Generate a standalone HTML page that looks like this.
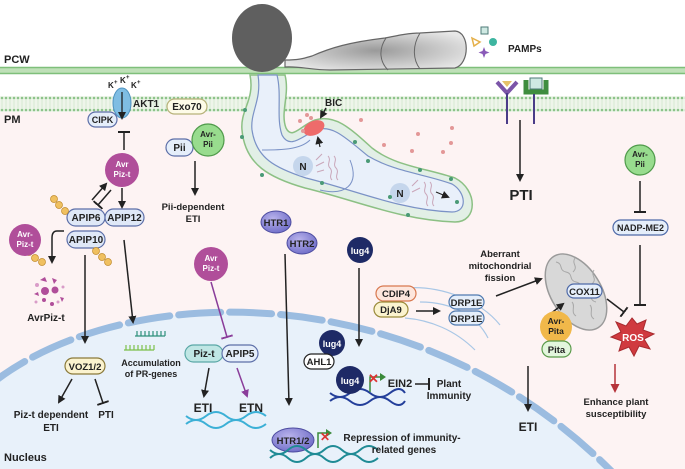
<!DOCTYPE html>
<html><head><meta charset="utf-8"><style>
html,body{margin:0;padding:0;background:#fff}
svg{display:block}
text{font-family:"Liberation Sans",Arial,sans-serif;font-weight:bold;fill:#222}
</style></head><body>
<svg width="685" height="469" viewBox="0 0 685 469" xmlns="http://www.w3.org/2000/svg">
<defs>
<marker id="ah" markerWidth="8" markerHeight="8" refX="6" refY="4" orient="auto" markerUnits="userSpaceOnUse"><path d="M0,0 L8,4 L0,8 Z" fill="#222"/></marker>
<marker id="ahp" markerWidth="8" markerHeight="8" refX="6" refY="4" orient="auto" markerUnits="userSpaceOnUse"><path d="M0,0 L8,4 L0,8 Z" fill="#8a3d9a"/></marker>
<marker id="ahr" markerWidth="9" markerHeight="9" refX="6" refY="4.5" orient="auto" markerUnits="userSpaceOnUse"><path d="M0,0 L9,4.5 L0,9 Z" fill="#b5333a"/></marker>
<marker id="tb" markerWidth="2" markerHeight="12" refX="1" refY="6" orient="auto" markerUnits="userSpaceOnUse"><rect x="0" y="0" width="2" height="12" fill="#222"/></marker>
<marker id="tbp" markerWidth="2" markerHeight="12" refX="1" refY="6" orient="auto" markerUnits="userSpaceOnUse"><rect x="0" y="0" width="2" height="12" fill="#8a3d9a"/></marker>
<pattern id="mem" width="4" height="16" patternUnits="userSpaceOnUse"><rect width="4" height="16" fill="#eef5ea"/><circle cx="2" cy="2" r="1.3" fill="#8dc38a"/><circle cx="2" cy="14" r="1.3" fill="#8dc38a"/><line x1="2" y1="3" x2="2" y2="13" stroke="#c8e1c4" stroke-width="0.6"/></pattern>
<radialGradient id="hyp" cx="0.5" cy="0.5" r="0.6"><stop offset="0" stop-color="#9a9a9a"/><stop offset="1" stop-color="#e8e8e8"/></radialGradient>
<radialGradient id="prot" cx="0.4" cy="0.35" r="0.7"><stop offset="0" stop-color="#b9b3ec"/><stop offset="1" stop-color="#6e6cc7"/></radialGradient>
</defs>
<rect x="0" y="112" width="685" height="357" fill="#fdf3f3"/>
<path d="M-10,385 C120,280 420,270 620,480 L-10,480 Z" fill="#e8f1fa"/>
<path d="M-10,385 C120,280 420,270 620,480" fill="none" stroke="#9bbce0" stroke-width="7" stroke-linecap="round" stroke-dasharray="42 9"/>
<rect x="0" y="67" width="685" height="7" fill="#bfe0b8"/>
<line x1="0" y1="67.5" x2="685" y2="67.5" stroke="#7fbf7a" stroke-width="1.5"/>
<line x1="0" y1="73.5" x2="685" y2="73.5" stroke="#7fbf7a" stroke-width="1.5"/>
<rect x="0" y="96" width="685" height="16" fill="url(#mem)"/>
<text x="4" y="63" font-size="11">PCW</text>
<text x="4" y="123" font-size="11">PM</text>
<text x="4" y="461" font-size="11">Nucleus</text>
<path d="M285,60 C300,60 305,58 312,56 C330,48 350,42 385,38 C400,35 410,33 420,33 L455,31 C470,32 470,64 455,68 L330,70 C310,70 300,66 285,67 Z" fill="url(#hyp)" stroke="#666" stroke-width="1.2"/>
<path d="M386,38 C378,50 380,62 388,70 M420,33 C412,46 413,60 420,69" stroke="#666" fill="none" stroke-width="1"/>
<ellipse cx="262" cy="38" rx="30" ry="34" fill="#5f5f5f"/>
<path d="M250,75 C255,100 240,110 242,130 C245,165 270,178 305,188 C355,200 400,220 455,222 C478,222 478,190 455,178 C425,168 395,166 372,148 C350,128 335,114 315,120 C300,126 292,140 286,128 C280,112 290,95 285,75 Z" fill="#e2efe6" stroke="#8cc084" stroke-width="1.5"/>
<path d="M258,75 C262,100 250,112 252,130 C256,158 275,168 306,178 C355,190 400,210 452,212 C468,212 466,192 452,184 C425,174 395,172 368,156 C346,138 332,124 316,130 C302,136 290,150 282,135 C276,118 282,95 277,75 Z" fill="#e9f0fa" stroke="#7b92c6" stroke-width="1.2"/>
<path d="M262,150 C280,150 300,150 310,140 M350,160 C360,185 345,196 320,190" fill="none" stroke="#7b92c6" stroke-width="1"/>
<circle cx="303" cy="166" r="10" fill="#c5d6ec"/><text x="303" y="170" font-size="10" font-weight="normal" text-anchor="middle">N</text>
<circle cx="400" cy="193" r="10" fill="#c5d6ec"/><text x="400" y="197" font-size="10" font-weight="normal" text-anchor="middle">N</text>
<path d="M316,160 l6,-6 m-6,12 l8,-4 m-7,10 l7,-2 M328,156 c4,4 -2,8 2,12 c4,4 -2,8 2,12 M334,156 c4,4 -2,8 2,12 c4,4 -2,8 2,12" stroke="#c9a6b9" fill="none" stroke-width="1"/>
<path d="M412,186 l6,-6 m-6,12 l8,-4 M424,182 c4,4 -2,8 2,12 c4,4 -2,8 2,12 M430,182 c4,4 -2,8 2,12 c4,4 -2,8 2,12" stroke="#c9a6b9" fill="none" stroke-width="1"/>
<line x1="436" y1="192" x2="448" y2="197" stroke="#222" stroke-width="1.2" marker-end="url(#ah)"/>
<line x1="320" y1="147" x2="318" y2="138" stroke="#222" stroke-width="1.2" marker-end="url(#ah)"/>
<ellipse cx="314" cy="128" rx="11" ry="7" fill="#ee6b6b" transform="rotate(-25 314 128)"/>
<line x1="326" y1="108" x2="321" y2="117" stroke="#222" stroke-width="1.5" marker-end="url(#ah)"/>
<text x="325" y="106" font-size="10">BIC</text>
<g fill="#e39797">
<circle cx="300" cy="121" r="2"/><circle cx="307" cy="115" r="2"/><circle cx="303" cy="131" r="2"/><circle cx="311" cy="118" r="2"/><circle cx="361" cy="120" r="2"/><circle cx="384" cy="145" r="2"/><circle cx="418" cy="134" r="2"/><circle cx="412" cy="151" r="2"/><circle cx="452" cy="128" r="2"/><circle cx="443" cy="152" r="2"/><circle cx="451" cy="143" r="2"/>
</g>
<g fill="#4a9a76"><circle cx="245" cy="110" r="2"/><circle cx="242" cy="137" r="2"/><circle cx="322" cy="183" r="2"/><circle cx="355" cy="142" r="2"/><circle cx="368" cy="161" r="2"/><circle cx="420" cy="170" r="2"/><circle cx="390" cy="197" r="2"/><circle cx="408" cy="215" r="2"/><circle cx="457" cy="202" r="2"/><circle cx="451" cy="179" r="2"/><circle cx="262" cy="175" r="2"/></g>
<rect x="481" y="27" width="7" height="7" fill="#cfe9e3" stroke="#4d7a77" stroke-width="1"/>
<circle cx="493" cy="42" r="4" fill="#3db5a0"/>
<path d="M472,38 l8,4 l-6,4 z" fill="none" stroke="#e5b04a" stroke-width="1.5"/>
<path d="M484,47 l1.5,4 l4,1.5 l-4,1.5 l-1.5,4 l-1.5,-4 l-4,-1.5 l4,-1.5 z" fill="#8a5ab8"/>
<text x="508" y="52" font-size="10">PAMPs</text>
<path d="M497,82 L507,93 L517,82" fill="none" stroke="#7b55a8" stroke-width="4"/>
<path d="M502,81 L512,81 L507,87 Z" fill="#e5c26a"/>
<line x1="507" y1="93" x2="507" y2="124" stroke="#4a3c88" stroke-width="2"/>
<path d="M526,80 L526,92 L546,92 L546,80" fill="none" stroke="#3f8d3f" stroke-width="5"/>
<rect x="530" y="78" width="12" height="11" fill="#cfe9e3" stroke="#4d7a77"/>
<line x1="534" y1="94" x2="534" y2="124" stroke="#4a3c88" stroke-width="2"/>
<line x1="520" y1="120" x2="520" y2="180" stroke="#222" stroke-width="1.5" marker-end="url(#ah)"/>
<text x="521" y="200" font-size="15" text-anchor="middle">PTI</text>
<text x="108" y="88" font-size="8">K</text><text x="114" y="84" font-size="6">+</text>
<text x="120" y="83" font-size="8">K</text><text x="126" y="79" font-size="6">+</text>
<text x="131" y="88" font-size="8">K</text><text x="137" y="84" font-size="6">+</text>
<ellipse cx="122" cy="103" rx="9" ry="15" fill="#7fbde3" stroke="#4f93c0"/>
<line x1="122" y1="92" x2="122" y2="118" stroke="#222" stroke-width="1.3" marker-end="url(#ah)"/>
<text x="133" y="107" font-size="10">AKT1</text>
<rect x="88" y="112" width="29" height="15" rx="7.5" fill="#e5eefa" stroke="#5d6fa8" stroke-width="1.2"/>
<text x="102.5" y="123" font-size="9" text-anchor="middle">CIPK</text>
<line x1="124" y1="150" x2="124" y2="132" stroke="#222" stroke-width="1.5" marker-end="url(#tb)"/>
<circle cx="122" cy="170" r="17" fill="#b04e9a"/>
<text x="122" y="167" font-size="8" text-anchor="middle" style="fill:#fff">Avr</text><text x="122" y="177" font-size="8" text-anchor="middle" style="fill:#fff">Piz-t</text>
<line x1="122" y1="188" x2="122" y2="207" stroke="#222" stroke-width="1.5" marker-end="url(#ah)"/>
<path d="M92,200 L106,184" stroke="#222" stroke-width="1.5" marker-end="url(#ah)"/>
<path d="M111,190 L98,205" stroke="#222" stroke-width="1.5" marker-end="url(#tb)"/>
<rect x="67" y="209" width="38" height="17" rx="8.5" fill="#dfe8f7" stroke="#5d6fa8" stroke-width="1.2"/>
<text x="86" y="221" font-size="10" text-anchor="middle">APIP6</text>
<rect x="105" y="209" width="39" height="17" rx="8.5" fill="#dfe8f7" stroke="#5d6fa8" stroke-width="1.2"/>
<text x="124.5" y="221" font-size="10" text-anchor="middle">APIP12</text>
<rect x="67" y="231" width="38" height="17" rx="8.5" fill="#dfe8f7" stroke="#5d6fa8" stroke-width="1.2"/>
<text x="86" y="243" font-size="10" text-anchor="middle">APIP10</text>
<g fill="#f0c060" stroke="#c08a2a" stroke-width="0.7">
<circle cx="54" cy="199" r="3.5"/><circle cx="59" cy="205" r="3.5"/><circle cx="65" cy="211" r="3.5"/>
<circle cx="96" cy="251" r="3.5"/><circle cx="102" cy="257" r="3.5"/><circle cx="108" cy="262" r="3.5"/>
<circle cx="29" cy="252" r="3.5"/><circle cx="35" cy="258" r="3.5"/><circle cx="42" cy="262" r="3.5"/>
</g>
<circle cx="25" cy="240" r="16" fill="#b04e9a"/>
<text x="25" y="237" font-size="8" text-anchor="middle" style="fill:#fff">Avr-</text>
<text x="25" y="247" font-size="8" text-anchor="middle" style="fill:#fff">Piz-t</text>
<path d="M64,231 L57,231 Q52,231 52,238 L52,262" fill="none" stroke="#222" stroke-width="1.5" marker-end="url(#ah)"/>
<g fill="#b04e9a"><path d="M40,280 l5,-3 l2,5 z"/><path d="M52,278 l5,2 l-3,4 z"/><circle cx="45" cy="291" r="4"/><circle cx="55" cy="290" r="3.5"/><path d="M34,294 l4,-2 l1,4 z"/><path d="M60,297 l4,1 l-2,4 z"/><circle cx="44" cy="300" r="2"/><circle cx="52" cy="304" r="2"/></g>
<g fill="#d99cc8"><circle cx="37" cy="285" r="2"/><circle cx="63" cy="287" r="1.5"/><circle cx="58" cy="302" r="1.5"/><circle cx="36" cy="302" r="1.5"/></g>
<text x="46" y="321" font-size="10" text-anchor="middle">AvrPiz-t</text>
<line x1="85" y1="255" x2="85" y2="342" stroke="#222" stroke-width="1.5" marker-end="url(#ah)"/>
<line x1="124" y1="240" x2="133" y2="322" stroke="#222" stroke-width="1.5" marker-end="url(#ah)"/>
<path d="M135,336 L165,336 M137,336 v-5 M141,336 v-5 M145,336 v-5 M149,336 v-5 M153,336 v-5 M157,336 v-5 M161,336 v-5 M165,336 v-5" stroke="#2d8f7a" stroke-width="1.2"/>
<path d="M124,350 L154,350 M126,350 v-5 M130,350 v-5 M134,350 v-5 M138,350 v-5 M142,350 v-5 M146,350 v-5 M150,350 v-5 M154,350 v-5" stroke="#7cc04a" stroke-width="1.2"/>
<text x="151" y="366" font-size="9" text-anchor="middle">Accumulation</text>
<text x="151" y="377" font-size="9" text-anchor="middle">of PR-genes</text>
<rect x="65" y="358" width="40" height="16" rx="8" fill="#fbf3cf" stroke="#8a7a3a" stroke-width="1.2"/>
<text x="85" y="370" font-size="9.5" text-anchor="middle">VOZ1/2</text>
<line x1="72" y1="379" x2="59" y2="402" stroke="#222" stroke-width="1.5" marker-end="url(#ah)"/>
<line x1="95" y1="379" x2="103" y2="403" stroke="#222" stroke-width="1.5" marker-end="url(#tb)"/>
<text x="51" y="418" font-size="10" text-anchor="middle">Piz-t dependent</text>
<text x="51" y="431" font-size="10" text-anchor="middle">ETI</text>
<text x="106" y="418" font-size="10" text-anchor="middle">PTI</text>
<rect x="167" y="99" width="40" height="15" rx="7.5" fill="#fdfbe8" stroke="#b7b27a" stroke-width="1.2"/>
<text x="187" y="110" font-size="10" text-anchor="middle">Exo70</text>
<rect x="166" y="139" width="27" height="17" rx="8.5" fill="#e5eefa" stroke="#5d6fa8" stroke-width="1.2"/>
<text x="179.5" y="151" font-size="10" text-anchor="middle">Pii</text>
<circle cx="208" cy="140" r="16" fill="#98dc8e" stroke="#4f9a4a" stroke-width="1.2"/>
<text x="208" y="137" font-size="8" text-anchor="middle">Avr-</text><text x="208" y="147" font-size="8" text-anchor="middle">Pii</text>
<line x1="195" y1="161" x2="195" y2="194" stroke="#222" stroke-width="1.5" marker-end="url(#ah)"/>
<text x="193" y="210" font-size="9.5" text-anchor="middle">Pii-dependent</text>
<text x="193" y="222" font-size="9.5" text-anchor="middle">ETI</text>
<circle cx="211" cy="264" r="17" fill="#b04e9a"/>
<text x="211" y="261" font-size="8" text-anchor="middle" style="fill:#fff">Avr</text><text x="211" y="271" font-size="8" text-anchor="middle" style="fill:#fff">Piz-t</text>
<line x1="211" y1="282" x2="227" y2="337" stroke="#8a3d9a" stroke-width="1.5" marker-end="url(#tbp)"/>
<rect x="185" y="345" width="38" height="17" rx="8.5" fill="#bfe6e4" stroke="#5aa8a6" stroke-width="1.2"/>
<text x="204" y="357" font-size="10" text-anchor="middle">Piz-t</text>
<rect x="222" y="345" width="36" height="17" rx="8.5" fill="#e5eefa" stroke="#5d6fa8" stroke-width="1.2"/>
<text x="240" y="357" font-size="10" text-anchor="middle">APIP5</text>
<line x1="209" y1="368" x2="204" y2="396" stroke="#222" stroke-width="1.5" marker-end="url(#ah)"/>
<line x1="237" y1="368" x2="247" y2="396" stroke="#8a3d9a" stroke-width="1.5" marker-end="url(#ahp)"/>
<text x="203" y="412" font-size="12" text-anchor="middle">ETI</text>
<text x="251" y="412" font-size="12" text-anchor="middle">ETN</text>
<path d="M186,416 q10,8 20,0 t20,0 t20,0 t20,0 M186,424 q10,-8 20,0 t20,0 t20,0 t20,0" fill="none" stroke="#3cb0d6" stroke-width="2"/>
<ellipse cx="276" cy="222" rx="15" ry="11" fill="url(#prot)" stroke="#4d4ca0"/>
<text x="276" y="226" font-size="9.5" text-anchor="middle">HTR1</text>
<ellipse cx="302" cy="243" rx="15" ry="11" fill="url(#prot)" stroke="#4d4ca0"/>
<text x="302" y="247" font-size="9.5" text-anchor="middle">HTR2</text>
<line x1="285" y1="254" x2="289" y2="404" stroke="#222" stroke-width="1.5" marker-end="url(#ah)"/>
<ellipse cx="293" cy="440" rx="21" ry="12" fill="url(#prot)" stroke="#4d4ca0"/>
<text x="293" y="444" font-size="9.5" text-anchor="middle">HTR1/2</text>
<path d="M318,448 v-15 h8" fill="none" stroke="#3a8a3a" stroke-width="1.5"/><path d="M326,429 l6,4 l-6,4 z" fill="#3a8a3a"/>
<text x="320" y="441" font-size="12" style="fill:#d33">✕</text>
<path d="M270,450 q9,8 18,0 t18,0 t18,0 t18,0 t18,0 t18,0 M270,458 q9,-8 18,0 t18,0 t18,0 t18,0 t18,0 t18,0" fill="none" stroke="#1f8b95" stroke-width="2"/>
<text x="402" y="441" font-size="10" text-anchor="middle">Repression of immunity-</text>
<text x="404" y="453" font-size="10" text-anchor="middle">related genes</text>
<circle cx="360" cy="250" r="13" fill="#1e2a66"/><text x="360" y="254" font-size="9" text-anchor="middle" style="fill:#fff">lug4</text>
<line x1="359" y1="268" x2="359" y2="345" stroke="#222" stroke-width="1.5" marker-end="url(#ah)"/>
<circle cx="332" cy="343" r="13" fill="#1e2a66"/><text x="332" y="347" font-size="9" text-anchor="middle" style="fill:#fff">lug4</text>
<rect x="304" y="354" width="30" height="15" rx="7.5" fill="#fff" stroke="#222" stroke-width="1.2"/>
<text x="319" y="365" font-size="9.5" text-anchor="middle">AHL1</text>
<path d="M330,393 q10,8 20,0 t20,0 t20,0 t15,0 M330,401 q10,-8 20,0 t20,0 t20,0 t15,0" fill="none" stroke="#243f9a" stroke-width="2"/>
<circle cx="350" cy="380" r="14" fill="#1e2a66"/><text x="350" y="384" font-size="9" text-anchor="middle" style="fill:#fff">lug4</text>
<path d="M370,392 v-15 h10" fill="none" stroke="#3a8a3a" stroke-width="1.5"/><path d="M380,373 l6,4 l-6,4 z" fill="#3a8a3a"/>
<text x="368" y="383" font-size="13" style="fill:#d33">✕</text>
<text x="400" y="387" font-size="11" text-anchor="middle">EIN2</text>
<line x1="415" y1="384" x2="429" y2="384" stroke="#222" stroke-width="1.5" marker-end="url(#tb)"/>
<text x="449" y="387" font-size="10" text-anchor="middle">Plant</text>
<text x="449" y="399" font-size="10" text-anchor="middle">Immunity</text>
<path d="M405,288 C440,285 480,300 500,325" fill="none" stroke="#a9c7e6" stroke-width="1.2"/>
<path d="M405,318 C430,320 455,330 475,350" fill="none" stroke="#a9c7e6" stroke-width="1.2"/>
<path d="M420,302 C455,302 478,318 488,338" fill="none" stroke="#a9c7e6" stroke-width="1.2"/>
<rect x="376" y="286" width="40" height="15" rx="7.5" fill="#fde6dd" stroke="#d8784f" stroke-width="1.2"/>
<text x="396" y="297" font-size="9.5" text-anchor="middle">CDIP4</text>
<rect x="374" y="302" width="34" height="15" rx="7.5" fill="#fbf3cf" stroke="#9a8a3a" stroke-width="1.2"/>
<text x="391" y="313" font-size="9.5" text-anchor="middle">DjA9</text>
<line x1="416" y1="311" x2="439" y2="311" stroke="#222" stroke-width="1.5" marker-end="url(#ah)"/>
<rect x="449" y="295" width="35" height="14" rx="7" fill="#e5eefa" stroke="#4f7ab0" stroke-width="1.2"/>
<text x="466.5" y="306" font-size="9.5" text-anchor="middle">DRP1E</text>
<rect x="449" y="311" width="35" height="14" rx="7" fill="#e5eefa" stroke="#4f7ab0" stroke-width="1.2"/>
<text x="466.5" y="322" font-size="9.5" text-anchor="middle">DRP1E</text>
<text x="500" y="257" font-size="9.5" text-anchor="middle">Aberrant</text>
<text x="500" y="269" font-size="9.5" text-anchor="middle">mitochondrial</text>
<text x="500" y="281" font-size="9.5" text-anchor="middle">fission</text>
<line x1="496" y1="296" x2="541" y2="279" stroke="#222" stroke-width="1.5" marker-end="url(#ah)"/>
<ellipse cx="576" cy="292" rx="25" ry="42" transform="rotate(-32 576 292)" fill="#d8d8d8" stroke="#9a9a9a" stroke-width="1.5"/>
<path d="M556,262 c8,2 2,8 10,10 c8,2 2,8 10,10 c8,2 2,8 10,10 c8,2 2,8 10,10 M575,258 c-4,6 4,8 -2,14 M594,270 c-4,6 4,8 -2,14 M572,302 c4,4 -2,10 4,14 M590,305 c4,4 -2,10 4,14" fill="none" stroke="#a8a8a8" stroke-width="1"/>
<rect x="567" y="284" width="35" height="14" rx="7" fill="#e5eefa" stroke="#4f6aa8" stroke-width="1.2"/>
<text x="584.5" y="295" font-size="9.5" text-anchor="middle">COX11</text>
<line x1="607" y1="299" x2="624" y2="312" stroke="#222" stroke-width="1.5" marker-end="url(#tb)"/>
<line x1="545" y1="318" x2="563" y2="304" stroke="#222" stroke-width="1.5" marker-end="url(#ah)"/>
<circle cx="556" cy="327" r="16" fill="#f1b84a"/>
<text x="556" y="324" font-size="8.5" text-anchor="middle">Avr-</text><text x="556" y="334" font-size="8.5" text-anchor="middle">Pita</text>
<rect x="542" y="341" width="29" height="16" rx="8" fill="#e3f6dd" stroke="#5a9a4a" stroke-width="1.2"/>
<text x="556.5" y="353" font-size="9.5" text-anchor="middle">Pita</text>
<line x1="528" y1="366" x2="528" y2="410" stroke="#222" stroke-width="1.5" marker-end="url(#ah)"/>
<text x="528" y="431" font-size="12" text-anchor="middle">ETI</text>
<circle cx="640" cy="160" r="15" fill="#98dc8e" stroke="#4f9a4a" stroke-width="1.2"/>
<text x="640" y="157" font-size="8" text-anchor="middle">Avr-</text><text x="640" y="167" font-size="8" text-anchor="middle">Pii</text>
<line x1="640" y1="181" x2="640" y2="212" stroke="#222" stroke-width="1.5" marker-end="url(#tb)"/>
<rect x="613" y="220" width="55" height="15" rx="7.5" fill="#e5eefa" stroke="#4f6aa8" stroke-width="1.2"/>
<text x="640.5" y="231" font-size="9" text-anchor="middle">NADP-ME2</text>
<line x1="640" y1="245" x2="640" y2="305" stroke="#222" stroke-width="1.5" marker-end="url(#tb)"/>
<path d="M632,318 L637,324 L646,320 L643,330 L654,334 L644,339 L650,349 L639,346 L634,356 L629,347 L619,351 L622,341 L611,337 L621,332 L616,322 L626,326 Z" fill="#d03a3f" stroke="#a82a2f"/>
<text x="633" y="341" font-size="10" text-anchor="middle" style="fill:#fff">ROS</text>
<line x1="615" y1="364" x2="615" y2="390" stroke="#b5333a" stroke-width="1.5" marker-end="url(#ahr)"/>
<text x="616" y="405" font-size="9.5" text-anchor="middle">Enhance plant</text>
<text x="616" y="417" font-size="9.5" text-anchor="middle">susceptibility</text>
</svg>
</body></html>
